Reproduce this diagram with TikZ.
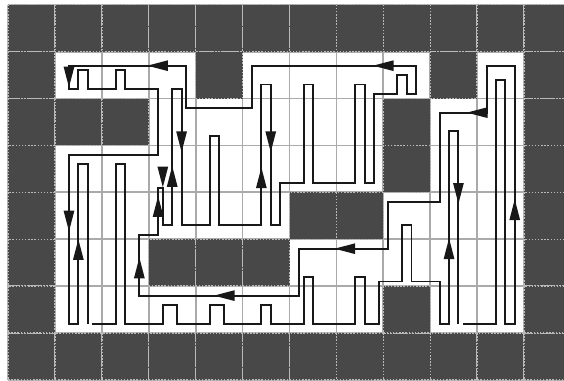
\documentclass[tikz,border=0pt]{standalone}
\definecolor{cellc}{RGB}{72,72,72}
\definecolor{gridc}{RGB}{170,170,170}
\definecolor{edgec}{RGB}{185,185,185}
\definecolor{pathc}{RGB}{24,24,24}
\tikzset{
  gridline/.style={draw=gridc, line width=1.1pt},
  darkcell/.style={fill=cellc, draw=edgec, line width=0.9pt, densely dotted},
  robotpath/.style={draw=pathc, line width=1.15pt},
  tup/.pic={\fill[pathc] (0,0) -- (-0.115,0.44) -- (0.115,0.44) -- cycle;},
  tdown/.pic={\fill[pathc] (0,0) -- (-0.115,-0.44) -- (0.115,-0.44) -- cycle;},
  tleft/.pic={\fill[pathc] (0,0) -- (0.44,-0.115) -- (0.44,0.115) -- cycle;}
}
\begin{document}
\begin{tikzpicture}[x=1cm,y=-1cm]
\useasboundingbox (-0.17,-0.1) rectangle (11.85,8.0);
\clip (-0.17,-0.1) rectangle (11.85,8.0);
\fill[white] (-0.17,-0.1) rectangle (11.85,8.0);
% grid
\foreach \c in {0,...,12} \draw[gridline] (\c,0) -- (\c,8);
\foreach \r in {0,...,8} \draw[gridline] (0,\r) -- (12,\r);
% obstacle / boundary cells
\foreach \c in {0,...,11} {
  \path[darkcell] (\c,0) rectangle ++(1,1);
  \path[darkcell] (\c,7) rectangle ++(1,1);
}
\foreach \r in {1,...,6} {
  \path[darkcell] (0,\r) rectangle ++(1,1);
  \path[darkcell] (11,\r) rectangle ++(1,1);
}
\foreach \c/\r in {4/1,9/1,1/2,2/2,8/2,8/3,6/4,7/4,3/5,4/5,5/5,8/6}
  \path[darkcell] (\c,\r) rectangle ++(1,1);
% path 1
\draw[robotpath] (1.8,6.8) -- (2.3,6.8) -- (2.3,3.4) -- (2.5,3.4) -- (2.5,6.8)
  -- (3.3,6.8) -- (3.3,6.4) -- (3.6,6.4) -- (3.6,6.8)
  -- (4.3,6.8) -- (4.3,6.4) -- (4.6,6.4) -- (4.6,6.8)
  -- (5.4,6.8) -- (5.4,6.4) -- (5.6,6.4) -- (5.6,6.8)
  -- (6.3,6.8) -- (6.3,5.8) -- (6.5,5.8) -- (6.5,6.8)
  -- (7.4,6.8) -- (7.4,5.8) -- (7.6,5.8) -- (7.6,6.8)
  -- (7.9,6.8) -- (7.9,5.9) -- (8.4,5.9) -- (8.4,4.7) -- (8.6,4.7) -- (8.6,5.9)
  -- (9.2,5.9) -- (9.2,6.8) -- (9.4,6.8) -- (9.4,2.7) -- (9.6,2.7) -- (9.6,6.8);
% path 2
\draw[robotpath] (9.7,6.8) -- (10.4,6.8) -- (10.4,1.6) -- (10.6,1.6) -- (10.6,6.8)
  -- (10.8,6.8) -- (10.8,1.3) -- (10.2,1.3) -- (10.2,2.3) -- (9.2,2.3) -- (9.2,4.2)
  -- (8.1,4.2) -- (8.1,5.2) -- (6.2,5.2) -- (6.2,6.2) -- (2.8,6.2) -- (2.8,4.9)
  -- (3.2,4.9) -- (3.2,3.9) -- (3.3,3.9) -- (3.3,4.7) -- (3.5,4.7) -- (3.5,1.8)
  -- (3.7,1.8) -- (3.7,4.7) -- (4.3,4.7) -- (4.3,2.8) -- (4.5,2.8) -- (4.5,4.7)
  -- (5.4,4.7) -- (5.4,1.7) -- (5.6,1.7) -- (5.6,4.7) -- (5.8,4.7) -- (5.8,3.8)
  -- (6.3,3.8) -- (6.3,1.7) -- (6.5,1.7) -- (6.5,3.8) -- (7.4,3.8) -- (7.4,1.7)
  -- (7.6,1.7) -- (7.6,3.8) -- (7.8,3.8) -- (7.8,1.9) -- (8.3,1.9) -- (8.3,1.5)
  -- (8.5,1.5) -- (8.5,1.9) -- (8.7,1.9) -- (8.7,1.3) -- (5.2,1.3) -- (5.2,2.2)
  -- (3.8,2.2) -- (3.8,1.3) -- (1.3,1.3) -- (1.3,1.8) -- (1.5,1.8) -- (1.5,1.4)
  -- (1.7,1.4) -- (1.7,1.8) -- (2.3,1.8) -- (2.3,1.4) -- (2.5,1.4) -- (2.5,1.8)
  -- (3.2,1.8) -- (3.2,3.2) -- (1.3,3.2) -- (1.3,6.8) -- (1.5,6.8) -- (1.5,3.4)
  -- (1.7,3.4) -- (1.7,6.8);
% arrowheads
\pic at (2.97,1.3) {tleft};
\pic at (1.3,1.76) {tdown};
\pic at (7.78,1.3) {tleft};
\pic at (3.7,3.14) {tdown};
\pic at (3.5,3.44) {tup};
\pic at (3.3,3.89) {tdown};
\pic at (3.2,4.08) {tup};
\pic at (5.4,3.47) {tup};
\pic at (5.6,3.14) {tdown};
\pic at (2.8,5.39) {tup};
\pic at (4.39,6.2) {tleft};
\pic at (6.96,5.2) {tleft};
\pic at (9.78,2.3) {tleft};
\pic at (9.4,4.98) {tup};
\pic at (9.6,4.24) {tdown};
\pic at (10.8,4.15) {tup};
\pic at (1.5,5.0) {tup};
\pic at (1.3,4.83) {tdown};
\end{tikzpicture}
\end{document}
